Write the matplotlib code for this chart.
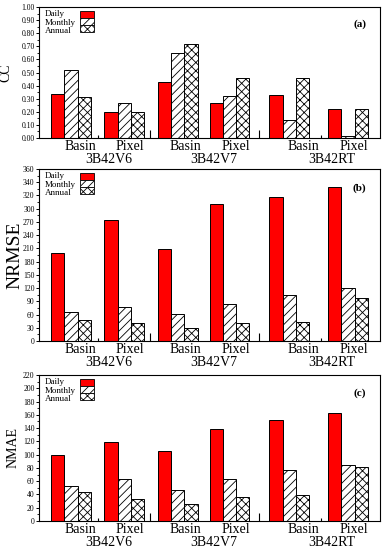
import matplotlib
matplotlib.use("Agg")
import matplotlib.pyplot as plt
from matplotlib.patches import Rectangle
from matplotlib.transforms import blended_transform_factory
import numpy as np

plt.rcParams['font.family'] = ['Liberation Serif', 'DejaVu Serif']
plt.rcParams['hatch.linewidth'] = 0.6

# ---------------- data ----------------
products = ["3B42V6", "3B42V7", "3B42RT"]
scales = ["Basin", "Pixel", "Basin", "Pixel", "Basin", "Pixel"]
series = ["Daily", "Monthly", "Annual"]

cc_daily   = [0.334, 0.195, 0.428, 0.266, 0.327, 0.225]
cc_monthly = [0.516, 0.266, 0.646, 0.324, 0.137, 0.018]
cc_annual  = [0.316, 0.195, 0.716, 0.456, 0.456, 0.225]

nrmse_daily   = [200, 274, 208, 310, 326, 350]
nrmse_monthly = [65, 76, 62, 84, 104, 120]
nrmse_annual  = [47, 40.5, 29, 41, 44, 97]

nmae_daily   = [99, 119.6, 106, 139, 152, 163]
nmae_monthly = [52, 63, 47, 63, 77, 85]
nmae_annual  = [44, 32.7, 25.6, 35.7, 38.7, 81]

cc_ticks = [0.00, 0.10, 0.20, 0.30, 0.40, 0.50, 0.60, 0.70, 0.80, 0.90, 1.00]
nrmse_ticks = [0, 30, 60, 90, 120, 150, 180, 210, 240, 270, 300, 330, 360, 390]
nrmse_ticklabels = ["0", "30", "60", "90", "120", "150", "180", "210", "240",
                    "270", "300", "320", "340", "360"]
nmae_ticks = [0, 20, 40, 60, 80, 100, 120, 140, 160, 180, 200, 220]

# ---------------- layout ----------------
group_centers = np.array([2.4, 6.4, 10.4, 14.3, 18.8, 23.2])
scale_label_x = [3.08, 6.83, 10.96, 14.79, 19.82, 23.65]
product_label_x = [5.26, 13.14, 22.0]
sep_long = [8.35, 16.5]
sep_short = [4.4, 21.2]
bar_w = 1.0

W, H = 384, 550
fig = plt.figure(figsize=(W / 100, H / 100), dpi=100)

panels = [
    dict(top=7, bot=138, data=(cc_daily, cc_monthly, cc_annual), ylim=(0, 1.0),
         ticks=cc_ticks, labels=["%.2f" % t for t in cc_ticks], ylabel="CC", tag="(a)",
         tag_y=0.87, ylab_size=10, ylab_x=6),
    dict(top=169, bot=341, data=(nrmse_daily, nrmse_monthly, nrmse_annual), ylim=(0, 390),
         ticks=nrmse_ticks, labels=nrmse_ticklabels, ylabel="NRMSE", tag="(b)",
         tag_y=0.89, ylab_size=14, ylab_x=15),
    dict(top=375, bot=521, data=(nmae_daily, nmae_monthly, nmae_annual), ylim=(0, 220),
         ticks=nmae_ticks, labels=[str(t) for t in nmae_ticks], ylabel="NMAE", tag="(c)",
         tag_y=0.877, ylab_size=10, ylab_x=13.5),
]

left, right = 39, 380
styles = [dict(color="#ff0000", hatch=None),
          dict(color="white", hatch="////"),
          dict(color="white", hatch="xxxx")]

for p in panels:
    ax_w = right - left
    ax_h = p["bot"] - p["top"]
    ax = fig.add_axes([left / W, 1 - p["bot"] / H, ax_w / W, ax_h / H])
    for i, (vals, st) in enumerate(zip(p["data"], styles)):
        ax.bar(group_centers + (i - 1) * bar_w, vals, width=bar_w,
               color=st["color"], hatch=st["hatch"], edgecolor="black",
               linewidth=0.7, zorder=2)
    ax.set_xlim(0, 25.6)
    ax.set_ylim(*p["ylim"])
    ax.set_yticks(p["ticks"])
    ax.set_yticklabels(p["labels"])
    minors = [(a + b) / 2 for a, b in zip(p["ticks"][:-1], p["ticks"][1:])]
    ax.set_yticks(minors, minor=True)
    ax.tick_params(axis="y", which="major", direction="out", length=2.2, width=0.7,
                   labelsize=5.5, pad=1)
    ax.tick_params(axis="y", which="minor", direction="out", length=1.2, width=0.6)
    # x separators as ticks
    ax.set_xticks(sep_long)
    ax.set_xticks(sep_short, minor=True)
    ax.tick_params(axis="x", which="major", direction="in", length=6, width=0.8,
                   labelbottom=False)
    ax.tick_params(axis="x", which="minor", direction="in", length=2.5, width=0.8,
                   labelbottom=False)
    for s in ax.spines.values():
        s.set_linewidth(0.8)
    ax.set_ylabel(p["ylabel"], fontsize=p["ylab_size"], va="center")
    ax.yaxis.set_label_coords(-(left - p["ylab_x"]) / ax_w, 0.5)
    ax.text(0.94, p["tag_y"], p["tag"], transform=ax.transAxes, fontsize=8,
            fontweight="bold", ha="center", va="center")

    tr = blended_transform_factory(ax.transData, ax.transAxes)
    for x, lab in zip(scale_label_x, scales):
        ax.text(x, -8.7 / ax_h, lab, transform=tr, fontsize=10, ha="center", va="center")
    for x, lab in zip(product_label_x, products):
        ax.text(x, -21 / ax_h, lab, transform=tr, fontsize=10, ha="center", va="center")

    # legend (drawn manually: left-aligned text, stacked swatches)
    patch_x, patch_w, patch_h, patch_top = 41, 14, 7, 4.3
    text_x, text_top, text_dy = 6, 7.2, 8.4
    for i, (name, st) in enumerate(zip(series, styles)):
        y0 = patch_top + i * patch_h
        ax.add_patch(Rectangle((patch_x / ax_w, 1 - (y0 + patch_h) / ax_h),
                               patch_w / ax_w, patch_h / ax_h, transform=ax.transAxes,
                               facecolor=st["color"], hatch=st["hatch"],
                               edgecolor="black", linewidth=0.6, zorder=3,
                               clip_on=False))
        ax.text(text_x / ax_w, 1 - (text_top + i * text_dy) / ax_h, name,
                transform=ax.transAxes, fontsize=6.5, ha="left", va="center")

fig.savefig("out.png", dpi=100)
